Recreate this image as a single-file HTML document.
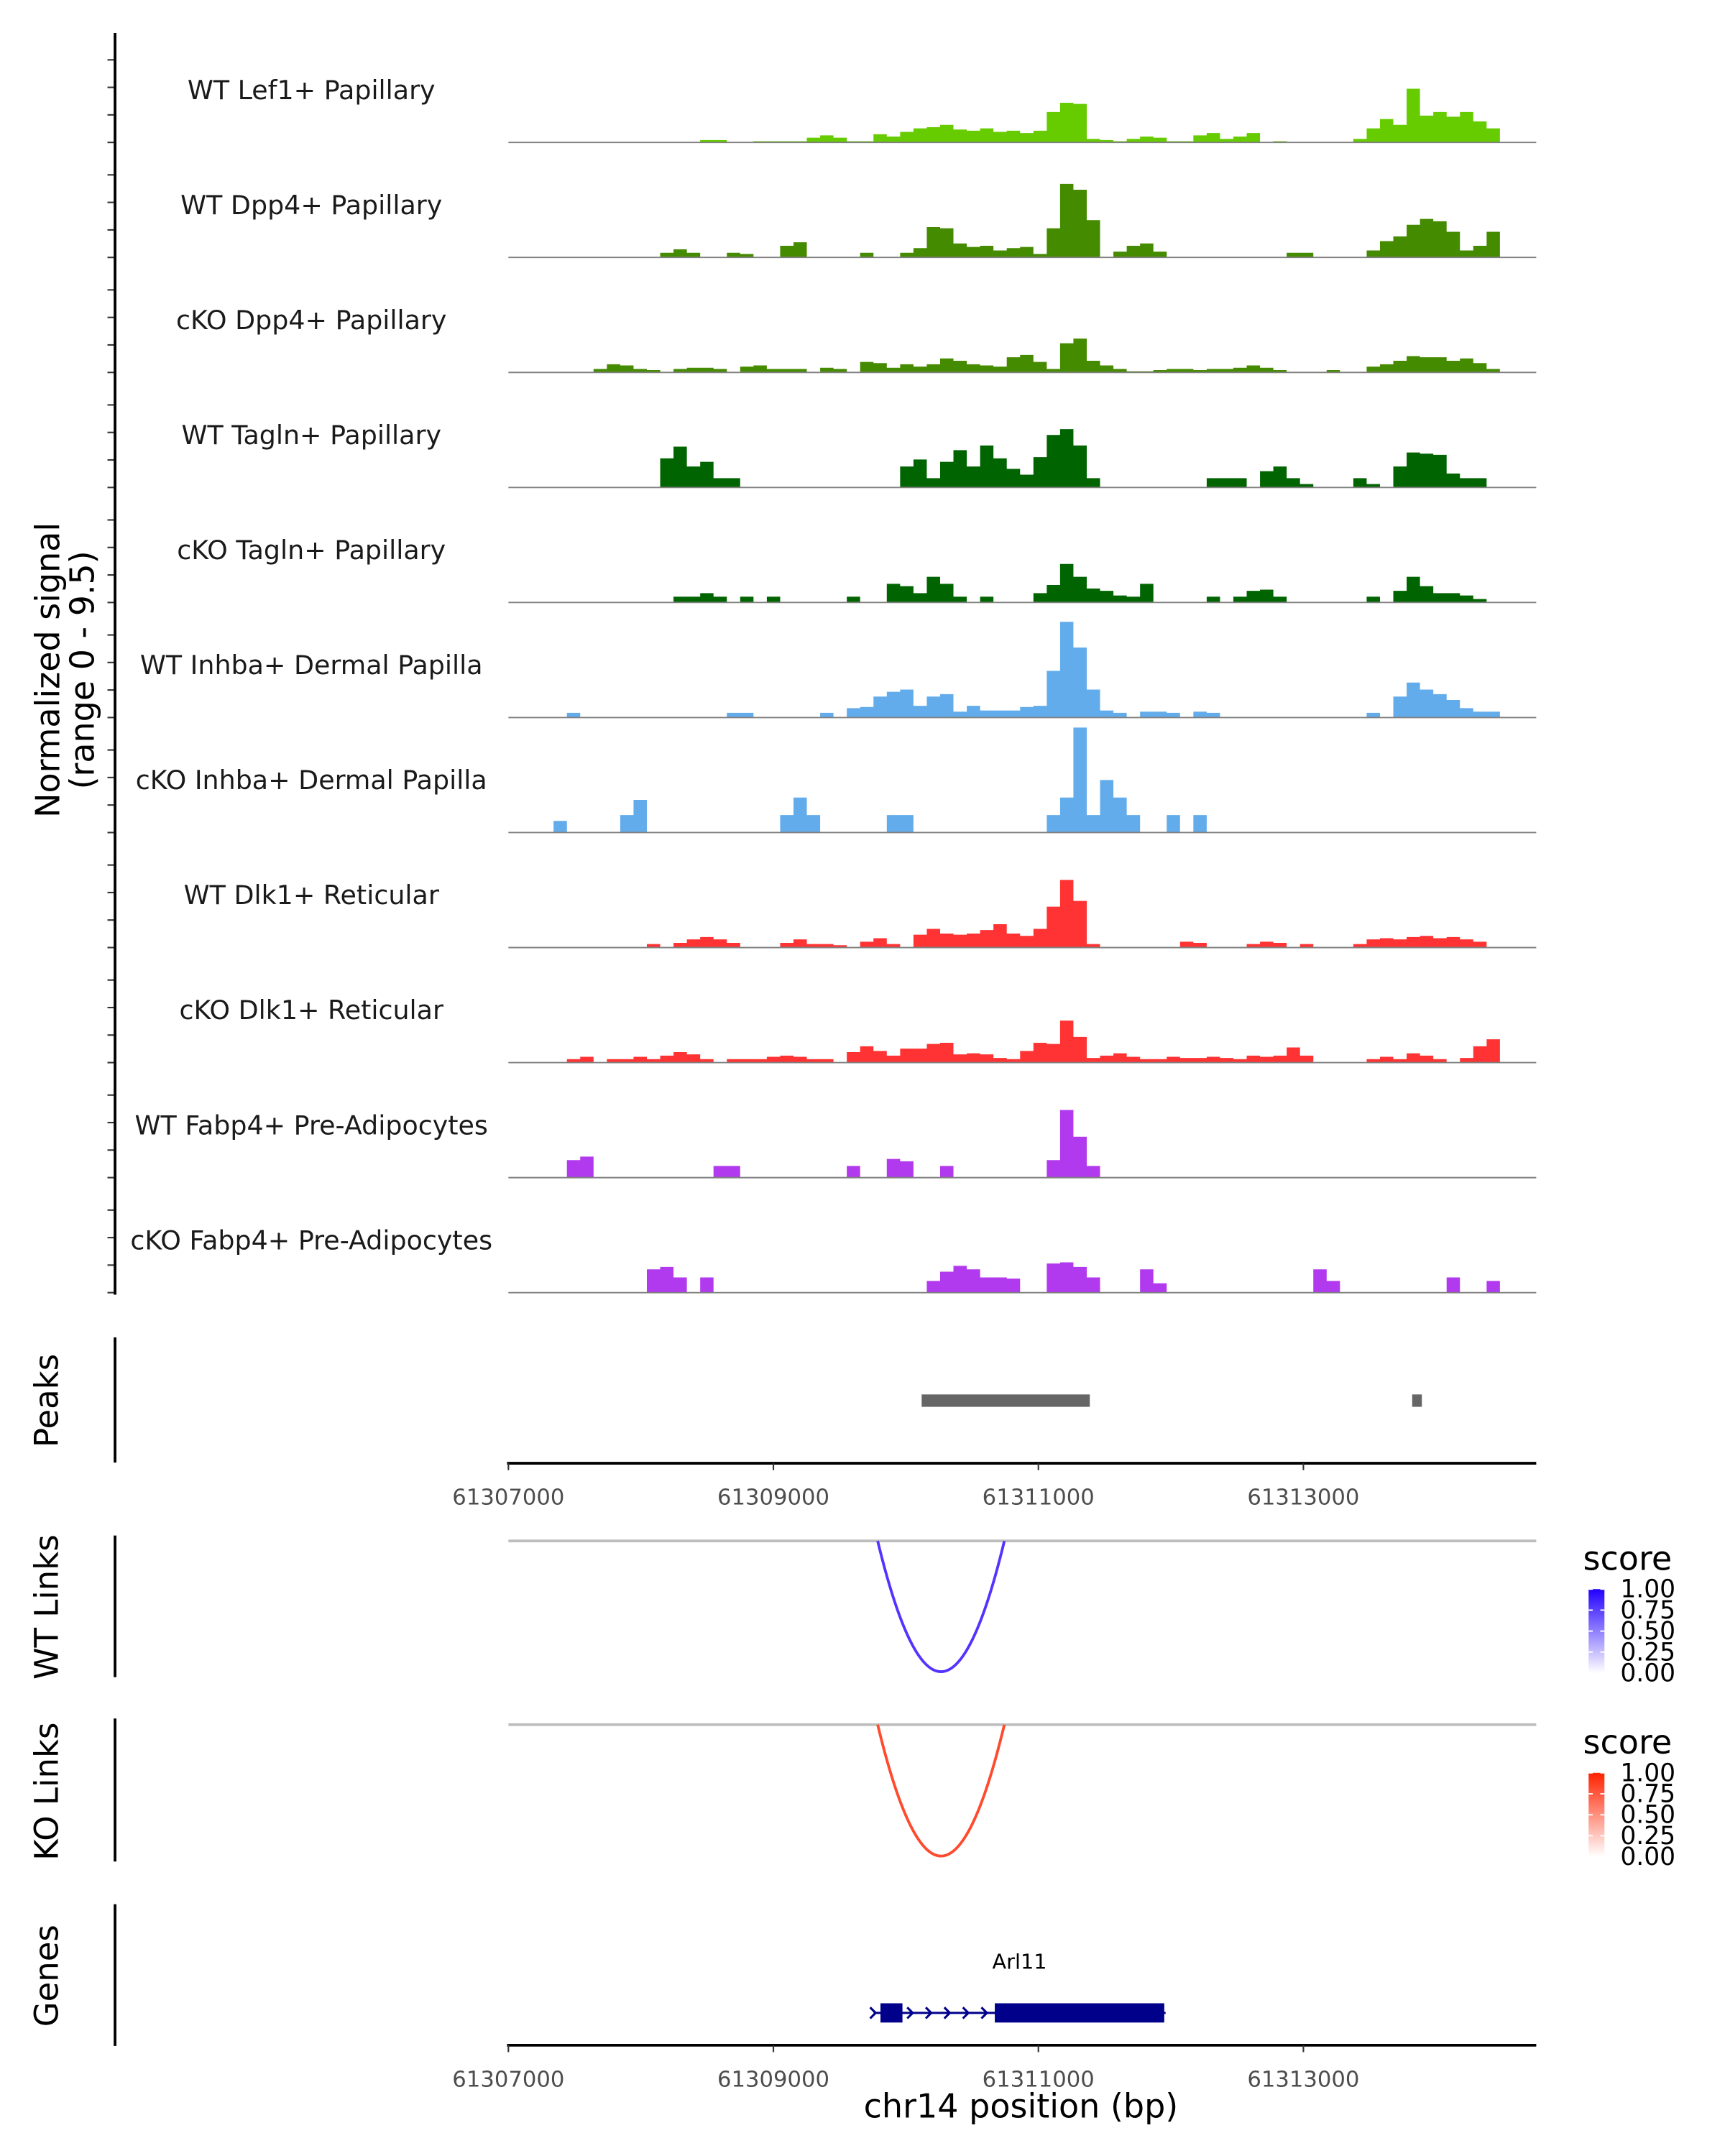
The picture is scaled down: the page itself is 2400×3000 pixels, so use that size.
<!DOCTYPE html>
<html><head><meta charset="utf-8">
<style>
html,body{margin:0;padding:0;background:#fff;}
svg{display:block;font-family:"DejaVu Sans","Liberation Sans",sans-serif;}
</style></head>
<body>
<svg id="chart" width="2400" height="3000" viewBox="0 0 1252 1567" preserveAspectRatio="none" xmlns="http://www.w3.org/2000/svg">
<rect x="0" y="0" width="1252" height="1567" fill="#fff"/>
<g id="tracks"></g>
<g id="axes"></g>
</svg>
<script>
// ---- data ----
const trackNames = ["WT Lef1+ Papillary","WT Dpp4+ Papillary","cKO Dpp4+ Papillary","WT Tagln+ Papillary","cKO Tagln+ Papillary","WT Inhba+ Dermal Papilla","cKO Inhba+ Dermal Papilla","WT Dlk1+ Reticular","cKO Dlk1+ Reticular","WT Fabp4+ Pre-Adipocytes","cKO Fabp4+ Pre-Adipocytes"];
const trackColors = ["#66CC00","#458B00","#458B00","#006400","#006400","#63ACEC","#63ACEC","#FF3333","#FF3333","#B23AEE","#B23AEE"];
const binStart = 61307039;
const binSize = 100.6;
const sigLef1WT = [0,0,0,0,0,0,0,0,0,0,0,0,0,0,0.2,0.2,0,0,0.1,0.1,0.1,0.1,0.4,0.6,0.4,0.1,0.1,0.7,0.5,0.9,1.2,1.3,1.5,1.1,1.0,1.2,0.9,1.0,0.8,1.0,2.6,3.4,3.3,0.3,0.2,0.1,0.3,0.5,0.4,0.1,0.1,0.6,0.8,0.3,0.5,0.8,0,0.1,0,0,0,0,0,0.3,1.2,2.0,1.5,4.6,2.3,2.6,2.2,2.6,1.8,1.2,0];
const sigDpp4WT = [0,0,0,0,0,0,0,0,0,0,0,0.4,0.7,0.4,0,0,0.4,0.3,0,0,1.0,1.3,0,0,0,0,0.4,0,0,0.4,0.8,2.6,2.5,1.2,0.9,1.0,0.6,0.8,0.9,0.3,2.5,6.3,5.8,3.2,0,0.5,1.0,1.2,0.5,0,0,0,0,0,0,0,0,0,0.4,0.4,0,0,0,0,0.6,1.4,1.8,2.8,3.3,3.1,2.2,0.6,1.0,2.2,0];
const sigDpp4KO = [0,0,0,0,0,0,0.3,0.7,0.6,0.3,0.2,0,0.3,0.4,0.4,0.3,0,0.5,0.6,0.3,0.3,0.3,0,0.4,0.3,0,0.9,0.8,0.4,0.7,0.5,0.7,1.2,1.0,0.7,0.6,0.5,1.3,1.5,0.9,0.3,2.5,2.9,1.0,0.6,0.3,0.1,0.1,0.2,0.3,0.3,0.2,0.3,0.3,0.4,0.6,0.4,0.2,0,0,0,0.2,0,0,0.5,0.7,1.0,1.4,1.3,1.3,1.0,1.2,0.8,0.3,0];
const sigTaglnWT = [0,0,0,0,0,0,0,0,0,0,0,2.5,3.5,1.8,2.2,0.8,0.8,0,0,0,0,0,0,0,0,0,0,0,0,1.8,2.4,0.8,2.2,3.2,1.8,3.6,2.5,1.6,1.1,2.6,4.5,5.0,3.6,0.8,0,0,0,0,0,0,0,0,0.8,0.8,0.8,0,1.4,1.8,0.8,0.3,0,0,0,0.8,0.3,0,1.8,3.0,2.9,2.8,1.2,0.8,0.8,0,0];
const sigTaglnKO = [0,0,0,0,0,0,0,0,0,0,0,0,0.5,0.5,0.8,0.5,0,0.5,0,0.5,0,0,0,0,0,0.5,0,0,1.6,1.4,0.8,2.2,1.6,0.5,0,0.5,0,0,0,0.8,1.5,3.3,2.2,1.2,1.0,0.6,0.5,1.6,0,0,0,0,0.5,0,0.5,1.0,1.1,0.5,0,0,0,0,0,0,0.5,0,1.0,2.2,1.4,0.8,0.8,0.6,0.3,0,0];
const sigInhbaWT = [0,0,0,0,0.4,0,0,0,0,0,0,0,0,0,0,0,0.4,0.4,0,0,0,0,0,0.4,0,0.8,0.9,1.8,2.2,2.4,1.0,1.8,2.0,0.5,1.0,0.6,0.6,0.6,0.9,1.0,4.0,8.2,6.0,2.4,0.6,0.4,0,0.5,0.5,0.4,0,0.5,0.4,0,0,0,0,0,0,0,0,0,0,0,0.4,0,1.8,3.0,2.4,2.0,1.5,0.8,0.5,0.5,0];
const sigInhbaKO = [0,0,0,1.0,0,0,0,0,1.5,2.8,0,0,0,0,0,0,0,0,0,0,1.5,3.0,1.5,0,0,0,0,0,1.5,1.5,0,0,0,0,0,0,0,0,0,0,1.5,3.0,9.0,1.5,4.5,3.0,1.5,0,0,1.5,0,1.5,0,0,0,0,0,0,0,0,0,0,0,0,0,0,0,0,0,0,0,0,0,0,0];
const sigDlk1WT = [0,0,0,0,0,0,0,0,0,0,0.3,0,0.4,0.7,0.9,0.7,0.4,0,0,0,0.4,0.7,0.3,0.3,0.2,0,0.5,0.8,0.3,0,1.1,1.6,1.2,1.1,1.2,1.5,2.0,1.2,1.0,1.6,3.5,5.8,4.0,0.3,0,0,0,0,0,0,0.5,0.4,0,0,0,0.3,0.5,0.4,0,0.3,0,0,0,0.3,0.7,0.8,0.7,0.9,1.0,0.8,0.9,0.7,0.5,0,0];
const sigDlk1KO = [0,0,0,0,0.3,0.5,0,0.3,0.3,0.5,0.3,0.6,0.9,0.7,0.3,0,0.3,0.3,0.3,0.5,0.6,0.5,0.3,0.3,0,0.9,1.4,1.0,0.6,1.2,1.2,1.6,1.7,0.7,0.8,0.7,0.4,0.3,1.0,1.7,1.6,3.6,2.2,0.4,0.6,0.8,0.5,0.3,0.3,0.5,0.4,0.4,0.5,0.4,0.3,0.6,0.5,0.6,1.3,0.6,0,0,0,0,0.3,0.5,0.3,0.8,0.6,0.3,0,0.4,1.4,2.0,0];
const sigFabp4WT = [0,0,0,0,1.5,1.8,0,0,0,0,0,0,0,0,0,1.0,1.0,0,0,0,0,0,0,0,0,1.0,0,0,1.6,1.4,0,0,1.0,0,0,0,0,0,0,0,1.5,5.8,3.5,1.0,0,0,0,0,0,0,0,0,0,0,0,0,0,0,0,0,0,0,0,0,0,0,0,0,0,0,0,0,0,0,0];
const sigFabp4KO = [0,0,0,0,0,0,0,0,0,0,2.0,2.2,1.3,0,1.3,0,0,0,0,0,0,0,0,0,0,0,0,0,0,0,0,1.0,1.8,2.3,2.0,1.3,1.3,1.2,0,0,2.5,2.6,2.2,1.3,0,0,0,2.0,0.8,0,0,0,0,0,0,0,0,0,0,0,2.0,1.0,0,0,0,0,0,0,0,0,1.3,0,0,1.0,0];
const yTicks = [0,2.5,5,7.5];
const xTickVals = [61307000,61309000,61311000,61313000];
const peakStarts = [61310119,61313821];
const peakEnds = [61311388,61313894];
const linkStart = [61309787];
const linkEnd = [61310743];
const linkScore = [1.0];
const legendLabels = ["1.00","0.75","0.50","0.25","0.00"];
const geneExonStarts = [61309808,61310671];
const geneExonEnds = [61309974,61311950];
const geneTxStart = [61309756];
const geneTxEnd = [61311960];

// ---- scales ----
const X0 = 369, PX_PER_BP = (946-369)/6000;
function xs(bp){ return X0 + (bp-61307000)*PX_PER_BP; }
const YPU = 8.48;
function ys(base, v){ return base - v*YPU; }
const PLOT_L = 368, PLOT_R = 1115;
const NS = "http://www.w3.org/2000/svg";
const tracksG = document.getElementById('tracks');
const axesG = document.getElementById('axes');
function mk(tag, attrs, parent){ const e=document.createElementNS(NS,tag); for(const k in attrs) e.setAttribute(k,attrs[k]); (parent||tracksG).appendChild(e); return e; }
function txt(s, attrs, parent){ const e=mk('text',attrs,parent); e.textContent=s; return e; }

const signals = [sigLef1WT,sigDpp4WT,sigDpp4KO,sigTaglnWT,sigTaglnKO,sigInhbaWT,sigInhbaKO,sigDlk1WT,sigDlk1KO,sigFabp4WT,sigFabp4KO];
const base0 = 103.5, spacing = 83.6;

signals.forEach((sig, t) => {
  const base = base0 + t*spacing;
  let d = 'M' + xs(binStart).toFixed(2) + ',' + base;
  sig.forEach((v,i) => {
    const xa = xs(binStart + i*binSize), xb = xs(binStart + (i+1)*binSize);
    const y = ys(base, v).toFixed(2);
    d += ' L' + xa.toFixed(2) + ',' + y + ' L' + xb.toFixed(2) + ',' + y;
  });
  d += ' L' + xs(binStart + sig.length*binSize).toFixed(2) + ',' + base + ' Z';
  const area = mk('path',{d:d, fill:trackColors[t], stroke:'none'});
  
  
  const bl = mk('line',{x1:PLOT_L+1,x2:PLOT_R,y1:base,y2:base,stroke:'#7f7f7f','stroke-width':1});
  
  
  const lab = txt(trackNames[t],{x:226,y:base-31.5,'text-anchor':'middle','font-size':19,fill:'#1a1a1a'});
  
  
  yTicks.forEach(tv => {
    const tk = mk('line',{x1:78,x2:83,y1:base - tv*8.0,y2:base - tv*8.0,stroke:'#333','stroke-width':1.1},axesG);
    
    
  });
});

// left axis for coverage
const yAx = mk('line',{x1:83.5,x2:83.5,y1:24,y2:941,stroke:'#000','stroke-width':2},axesG);


const yt = txt('Normalized signal',{transform:'translate(43,487) rotate(-90)','text-anchor':'middle','font-size':24,fill:'#000'},axesG);


const yt2 = txt('(range 0 - 9.5)',{transform:'translate(68,487) rotate(-90)','text-anchor':'middle','font-size':24,fill:'#000'},axesG);



// panel titles
function panelTitle(s,cy,y1,y2,name){
  const t = txt(s,{transform:'translate(42,'+cy+') rotate(-90)','text-anchor':'middle','font-size':23.5,fill:'#000'},axesG);
  
  
  const l = mk('line',{x1:83.5,x2:83.5,y1:y1,y2:y2,stroke:'#000','stroke-width':2},axesG);
  
  
}
panelTitle('Peaks',1018,972,1063,'peaks');
panelTitle('WT Links',1168,1116,1219,'wt-links');
panelTitle('KO Links',1302,1249,1353,'ko-links');
panelTitle('Genes',1436,1384,1487,'genes');

// peaks
peakStarts.forEach((s,i) => {
  const r = mk('rect',{x:xs(s),y:1013.5,width:xs(peakEnds[i])-xs(s),height:9,fill:'#666'});
  
  
});

// x axes
function xAxis(y, name){
  const l = mk('line',{x1:PLOT_L,x2:PLOT_R,y1:y,y2:y,stroke:'#000','stroke-width':2},axesG);
  
  
  xTickVals.forEach(v => {
    const tk = mk('line',{x1:xs(v),x2:xs(v),y1:y,y2:y+5,stroke:'#333','stroke-width':1.1},axesG);
    
    
    const tl = txt(String(v),{x:xs(v),y:y+30,'text-anchor':'middle','font-size':16,fill:'#4d4d4d'},axesG);
    
    
  });
}
xAxis(1063.5,'peaks-x-axis');
xAxis(1486.5,'genes-x-axis');
const xt = txt('chr14 position (bp)',{x:741,y:1539,'text-anchor':'middle','font-size':24,fill:'#000'},axesG);



// links
function linksPanel(base, bottom, color, gradId, c1, name){
  const bl = mk('line',{x1:PLOT_L+1,x2:PLOT_R,y1:base,y2:base,stroke:'#bebebe','stroke-width':2});
  
  
  linkStart.forEach((s,i) => {
    const xa = xs(s), xb = xs(linkEnd[i]);
    const depth = (bottom-base)*linkScore[i];
    const p = mk('path',{d:'M'+xa+','+base+' Q'+((xa+xb)/2)+','+(base+2*depth)+' '+xb+','+base,fill:'none',stroke:color,'stroke-width':2});
    
    
  });
  const defs = mk('defs',{});
  const g = mk('linearGradient',{id:gradId,x1:0,y1:1,x2:0,y2:0},defs);
  mk('stop',{offset:'0','stop-color':'#ffffff'},g);
  mk('stop',{offset:'1','stop-color':c1},g);
  const ly = base + 12;
  const st = txt('score',{x:1149,y:ly+9,'font-size':24,fill:'#000'},axesG);
  
  
  const cb = mk('rect',{x:1153,y:ly+23,width:11.5,height:61,fill:'url(#'+gradId+')'},axesG);
  
  
  legendLabels.forEach((s,i) => {
    const yy = ly + 23 + i*15.25;
    const tl = txt(s,{x:1176,y:yy+6,'font-size':18,fill:'#000'},axesG);
    
    
    mk('line',{x1:1153,x2:1156,y1:yy,y2:yy,stroke:'#fff','stroke-width':1},axesG);
    mk('line',{x1:1161.5,x2:1164.5,y1:yy,y2:yy,stroke:'#fff','stroke-width':1},axesG);
  });
}
linksPanel(1120, 1215, '#5533FF', 'gradBlue', '#2200FF', 'wt-links');
linksPanel(1253.5, 1349, '#FF4A2E', 'gradRed', '#FF2200', 'ko-links');

// gene model
const gcol = '#00008B';
const gl = mk('line',{x1:xs(geneTxStart[0]),x2:xs(geneTxEnd[0]),y1:1463,y2:1463,stroke:gcol,'stroke-width':1.6});


geneExonStarts.forEach((s,i) => {
  const r = mk('rect',{x:xs(s),y:1456,width:xs(geneExonEnds[i])-xs(s),height:14,fill:gcol});
  
  
});
for (let bp = geneTxStart[0]; bp < geneExonStarts[1]; bp += 140) {
  if (bp > geneExonStarts[0] && bp < geneExonEnds[0]) continue;
  const ax = xs(bp);
  const a = mk('path',{d:'M'+(ax-2.5)+',1459 L'+(ax+1.5)+',1463 L'+(ax-2.5)+',1467',fill:'none',stroke:gcol,'stroke-width':1.6});
  
  
}
const gn = txt('Arl11',{x:(xs(geneTxStart[0])+xs(geneTxEnd[0]))/2,y:1431,'text-anchor':'middle','font-size':15,fill:'#000'});


</script>
</body></html>
